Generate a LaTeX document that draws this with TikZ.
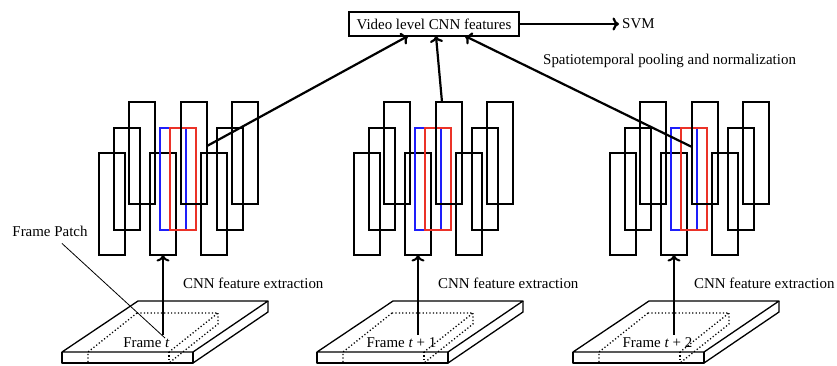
\documentclass[tikz,border=0pt]{standalone}
\usepackage{fontspec}
\setmainfont{Liberation Serif}
\usetikzlibrary{arrows.meta,calc}
\definecolor{fblue}{RGB}{30,30,250}
\definecolor{fred}{RGB}{235,50,40}
\begin{document}
\begin{tikzpicture}[x=1bp,y=-1bp,
  fm/.style={draw=black,line width=2bp,minimum width=26bp,minimum height=102bp,inner sep=0pt,outer sep=0pt,anchor=north west},
  thickarrow/.style={line width=2.2bp,-{To[length=6.5bp,width=13bp]}},
  lbl/.style={font=\fontsize{15}{18}\selectfont,inner sep=0pt},
  slab/.style={line width=1.3bp,line join=round},
  patch/.style={line width=1.3bp,dash pattern=on 1.2bp off 2.2bp},
  pointer/.style={line width=0.8bp},
]
\useasboundingbox (0,0) rectangle (837,365);

% top box
\node[lbl,draw,line width=2bp,outer sep=0pt,minimum width=170bp,minimum height=24bp] (vbox) at (434,24) {Video level CNN features};
\node[lbl,anchor=west] (svm) at (622,24) {SVM};
\draw[thickarrow] (vbox.east) -- ([xshift=-3bp]svm.west);
\node[lbl,anchor=west] (stp) at (543,61) {Spatiotemporal pooling and normalization};

\node[lbl] (fp) at (50,231) {Frame Patch};

\foreach \g/\lab in {0/{Frame \textit{t}},1/{Frame \textit{t} + 1},2/{Frame \textit{t} + 2}} {
  \begin{scope}[xshift={(255*\g+\g*(\g-1)/2)*1bp}]
    % slab
    \draw[slab] (62,352) -- (193,352) -- (268,301) -- (138,301) -- cycle;
    \draw[slab] (62,352) -- (62,363) -- (193,363) -- (193,352);
    \draw[slab] (193,363) -- (268,312) -- (268,301);
    % dotted patch
    \draw[patch] (137,313) -- (218,313) -- (169,352);
    \draw[patch] (137,313) -- (88,352) -- (88,363);
    \draw[patch] (169,352) -- (169,363);
    \draw[patch] (218,313) -- (218,324) -- (169,363);
    % frame label
    \node[lbl] (fl\g) at (146.5,343) {\lab};
    % feature maps
    \node[fm] (r\g-0-0) at (99,153) {};
    \node[fm] (r\g-0-1) at (150,153) {};
    \node[fm] (r\g-0-2) at (201,153) {};
    \node[fm] (r\g-1-0) at (114,128) {};
    \node[fm] (r\g-1-2) at (217,128) {};
    \node[fm,draw=fblue] (b\g) at (160,128) {};
    \node[fm,draw=fred] (rd\g) at (170,128) {};
    \node[fm] (r\g-2-0) at (129,102) {};
    \node[fm] (r\g-2-1) at (181,102) {};
    \node[fm] (r\g-2-2) at (232,102) {};
    % extraction arrow
    \draw[thickarrow,line width=2bp] ($(r\g-0-1.south |- fl\g.north)+(0,-3)$) -- (r\g-0-1.south);
    \node[lbl,anchor=west] (cnn\g) at (183,283) {CNN feature extraction};
  \end{scope}
}

\coordinate (pp) at (165,338);
\draw[pointer] ([xshift=12bp,yshift=-7bp]fp.south) -- (pp);

% pooling arrows
\draw[thickarrow] ($(r0-2-1.north east)+(0,44)$) -- ($(vbox.south)+(-26,0)$);
\draw[thickarrow] ($(r1-2-1.north west)+(6,0)$) -- ($(vbox.south)+(2,0)$);
\draw[thickarrow] ($(r2-2-1.north west)+(0,45)$) -- ($(vbox.south)+(31,0)$);
\end{tikzpicture}
\end{document}
